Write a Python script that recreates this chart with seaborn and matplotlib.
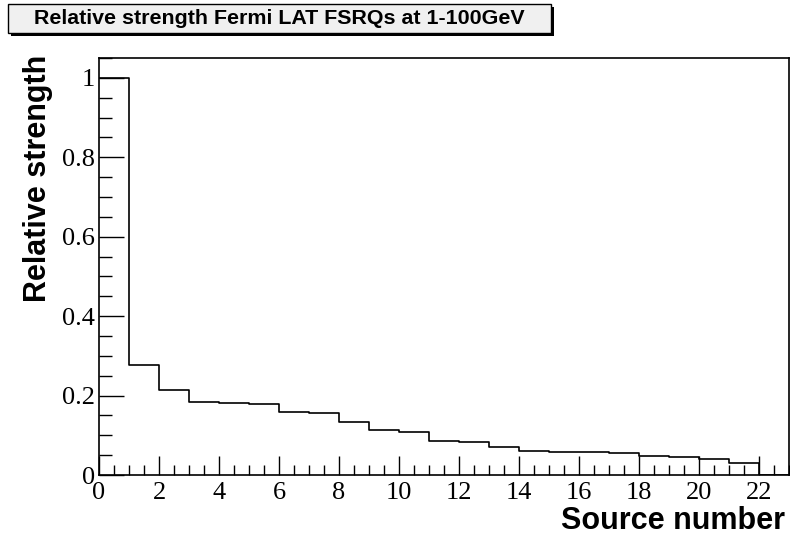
import numpy as np
import pandas as pd
import matplotlib
matplotlib.use("Agg")
import matplotlib.pyplot as plt
from matplotlib.patches import Rectangle
from matplotlib.ticker import MultipleLocator, FuncFormatter
import seaborn as sns

# =========================================
# DATA
# =========================================

source_number = list(range(23))

relative_strength = [
    1.000, 0.276, 0.214, 0.184, 0.182, 0.180, 0.158, 0.157,
    0.134, 0.113, 0.108, 0.086, 0.082, 0.071, 0.061, 0.059,
    0.058, 0.056, 0.049, 0.046, 0.040, 0.029, 0.000
]

bin_edges = list(range(24))

title_text = "Relative strength Fermi LAT FSRQs at 1-100GeV"
x_label = "Source number"
y_label = "Relative strength"

df = pd.DataFrame({
    "source": [s + 0.5 for s in source_number],
    "strength": relative_strength
})

# =========================================
# FIGURE
# =========================================

sns.set_theme(style="white", rc={"text.color": "black",
                                 "axes.labelcolor": "black",
                                 "xtick.color": "black",
                                 "ytick.color": "black"})
plt.rcParams["font.family"] = ["Liberation Sans", "DejaVu Sans"]

W, H = 790, 550
fig = plt.figure(figsize=(W / 100, H / 100), dpi=100)

ax_left, ax_right, ax_top, ax_bottom = 99, 789, 58, 475
ax = fig.add_axes([
    ax_left / W,
    1 - ax_bottom / H,
    (ax_right - ax_left) / W,
    (ax_bottom - ax_top) / H
])

sns.histplot(
    data=df,
    x="source",
    weights="strength",
    bins=bin_edges,
    element="step",
    fill=False,
    color="black",
    linewidth=1.2,
    ax=ax
)

ax.set_xlim(0, 23)
ax.set_ylim(0, 1.05)

# ROOT style ticks
ax.xaxis.set_major_locator(MultipleLocator(2))
ax.xaxis.set_minor_locator(MultipleLocator(0.5))
ax.yaxis.set_major_locator(MultipleLocator(0.2))
ax.yaxis.set_minor_locator(MultipleLocator(0.05))
ax.yaxis.set_major_formatter(FuncFormatter(lambda v, p: "%g" % round(v, 2)))

ax.tick_params(which="both", direction="in", bottom=True, left=True,
               top=False, right=False, color="black", width=1)
ax.tick_params(axis="x", which="major", length=14, pad=5)
ax.tick_params(axis="x", which="minor", length=7)
ax.tick_params(axis="y", which="major", length=18, pad=3)
ax.tick_params(axis="y", which="minor", length=9)

for lab in ax.get_xticklabels() + ax.get_yticklabels():
    lab.set_fontfamily("Liberation Serif")
    lab.set_fontsize(19)
    lab.set_color("black")

for sp in ax.spines.values():
    sp.set_visible(True)
    sp.set_color("black")
    sp.set_linewidth(1.2)

ax.set_xlabel(x_label, fontsize=22, fontweight="bold", loc="right")
ax.xaxis.set_label_coords((785 - ax_left) / (ax_right - ax_left),
                          -(521 - ax_bottom) / (ax_bottom - ax_top))
ax.xaxis.label.set_va("center")

ax.set_ylabel(y_label, fontsize=22, fontweight="bold", loc="top")
ax.yaxis.set_label_coords(-(ax_left - 38) / (ax_right - ax_left),
                          1 + 3 / (ax_bottom - ax_top))
ax.yaxis.label.set_va("center")

# =========================================
# TITLE BOX WITH SHADOW
# =========================================

bx0, bx1, by0, by1 = 8, 551, 4, 33

shadow = Rectangle(((bx0 + 3) / W, (H - by1 - 3) / H),
                   (bx1 - bx0) / W, (by1 - by0) / H,
                   transform=fig.transFigure, facecolor="black",
                   edgecolor="black", linewidth=0)
box = Rectangle((bx0 / W, (H - by1) / H),
                (bx1 - bx0) / W, (by1 - by0) / H,
                transform=fig.transFigure, facecolor="#f0f0f0",
                edgecolor="black", linewidth=1)
fig.patches.extend([shadow, box])

fig.text((bx0 + bx1) / 2 / W, 1 - (by0 + by1) / 2 / H, title_text,
         ha="center", va="center", fontsize=15.4, fontweight="bold",
         color="black")

fig.savefig("out.png", dpi=100, facecolor="white")
